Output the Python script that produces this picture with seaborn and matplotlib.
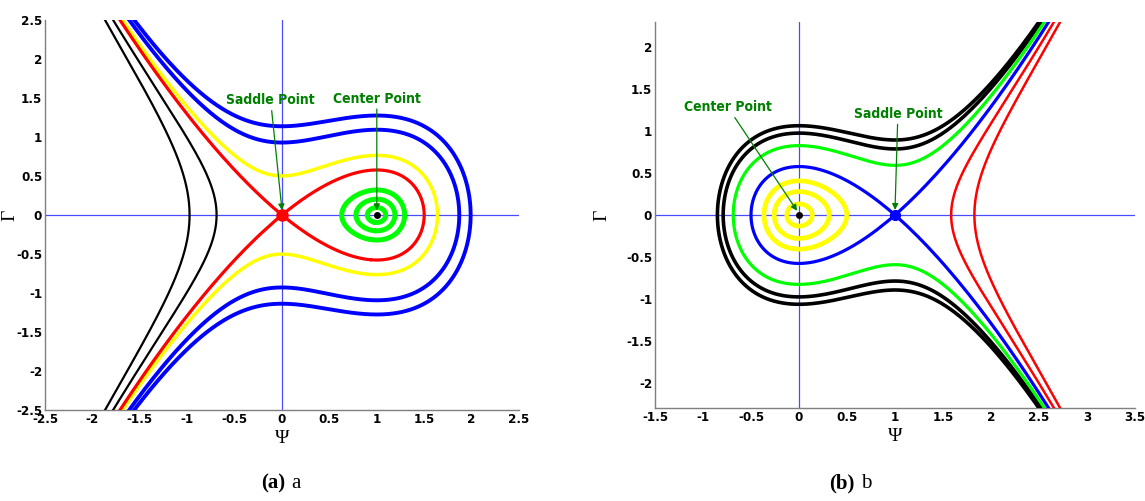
import numpy as np
import pandas as pd
import matplotlib
matplotlib.use("Agg")
import matplotlib.pyplot as plt
from matplotlib import font_manager
from matplotlib.ticker import FuncFormatter
import seaborn as sns
import contourpy

# ---------------------------------------------------------------------------
# Phase portraits of H(Psi, Gamma) = Gamma^2 / 2 + V(Psi).
# Each trajectory is identified by the Psi value where it crosses Gamma = 0.
# ---------------------------------------------------------------------------

# (a) V = Psi^3/3 - Psi^2/2 : saddle at Psi = 0, centre at Psi = 1
a_black = [-0.975, -0.69]
a_red = [0.0]                 # separatrix through the saddle
a_yellow = [1.64]
a_blue = [1.87, 1.99]
a_green = [0.63, 0.78, 0.90]  # closed orbits round the centre
a_saddle = (0.0, 0.0)
a_center = (1.0, 0.0)

# (b) V = Psi^2/2 - Psi^3/3 : centre at Psi = 0, saddle at Psi = 1
b_black = [-0.85, -0.79]
b_green = [-0.685]
b_blue = [1.0]                # separatrix through the saddle
b_yellow = [-0.365, -0.258, -0.127]  # closed orbits round the centre
b_red = [1.585, 1.827]
b_saddle = (1.0, 0.0)
b_center = (0.0, 0.0)


def pot_a(p):
    return p ** 3 / 3 - p ** 2 / 2


def pot_b(p):
    return p ** 2 / 2 - p ** 3 / 3


def orbits(pot, crossings, xlim, ylim, keep=None):
    """Level curves of H through the points (psi0, 0)."""
    px = np.linspace(xlim[0] - 0.2, xlim[1] + 0.2, 900)
    gy = np.linspace(ylim[0] - 0.2, ylim[1] + 0.2, 900)
    P, G = np.meshgrid(px, gy)
    H = G ** 2 / 2 + pot(P)
    gen = contourpy.contour_generator(px, gy, H)
    out = []
    for p0 in crossings:
        for seg in gen.lines(pot(p0)):
            if keep is None or keep(seg):
                out.append(seg)
    return out


sns.set_theme(style="white")
plt.rcParams["axes.unicode_minus"] = False
plt.rcParams["text.color"] = "black"
plt.rcParams["axes.labelcolor"] = "black"

installed = {f.name for f in font_manager.fontManager.ttflist}
narrow = [f for f in ("Liberation Sans Narrow", "DejaVu Sans Condensed")
          if f in installed]
tick_font = narrow + ["DejaVu Sans"]
serif = ["Liberation Serif", "DejaVu Serif"]

fig = plt.figure(figsize=(11.45, 5.01), dpi=100)
ax_a = fig.add_axes([45 / 1145, 91 / 501, 474 / 1145, 390 / 501])
ax_b = fig.add_axes([655 / 1145, 93 / 501, 480 / 1145, 386 / 501])

BLK, RED, YEL, BLU, GRN = "#000000", "#ff0000", "#ffff00", "#0000ff", "#00ff00"
AX_BLUE = "#4a4aff"


def draw(ax, curves, color, lw):
    for seg in curves:
        df = pd.DataFrame({"psi": seg[:, 0], "gamma": seg[:, 1]})
        sns.lineplot(data=df, x="psi", y="gamma", sort=False, estimator=None,
                     color=color, lw=lw, ax=ax, zorder=3)


def style(ax, xlim, ylim, xt, yt, ylab_x):
    ax.axhline(0, color=AX_BLUE, lw=0.9, zorder=1)
    ax.axvline(0, color=AX_BLUE, lw=0.9, zorder=1)
    ax.set_xlim(*xlim)
    ax.set_ylim(*ylim)
    ax.set_xticks(xt)
    ax.set_yticks(yt)
    fmt = FuncFormatter(lambda v, _: "%g" % round(v, 2))
    ax.xaxis.set_major_formatter(fmt)
    ax.yaxis.set_major_formatter(fmt)
    for s in ("top", "right"):
        ax.spines[s].set_visible(False)
    for s in ("left", "bottom"):
        ax.spines[s].set_color("#7f7f7f")
        ax.spines[s].set_linewidth(1.0)
    ax.tick_params(direction="in", length=5, width=0.8, color="#7f7f7f",
                   labelcolor="black", pad=2, labelsize=9.5)
    for lab in ax.get_xticklabels() + ax.get_yticklabels():
        lab.set_family(tick_font)
        lab.set_fontweight("bold")
        lab.set_fontstretch("condensed")
    ax.set_xlabel("Ψ", family=serif, fontsize=14, labelpad=3, color="black")
    ax.set_ylabel("Γ", family=serif, fontsize=14, color="black")
    ax.yaxis.set_label_coords(ylab_x, 0.5)
    ax.set_facecolor("white")


# ---- panel (a) ----
xa, ya = (-2.5, 2.5), (-2.5, 2.5)
draw(ax_a, orbits(pot_a, a_black, xa, ya), BLK, 1.6)
draw(ax_a, orbits(pot_a, a_blue, xa, ya), BLU, 2.8)
draw(ax_a, orbits(pot_a, a_yellow, xa, ya), YEL, 2.5)
draw(ax_a, orbits(pot_a, a_red, xa, ya), RED, 2.3)
draw(ax_a, orbits(pot_a, a_green, xa, ya, keep=lambda s: s[:, 0].min() > 0.3),
     GRN, 3.6)
style(ax_a, xa, ya, np.arange(-2.5, 2.51, 0.5), np.arange(-2.5, 2.51, 0.5),
      -0.056)
ax_a.plot(*a_saddle, "o", color=RED, ms=8, zorder=5)
ax_a.plot(*a_center, "o", color=BLK, ms=4, zorder=5)

ann = dict(color="#008000", fontsize=10, fontweight="bold", family=tick_font,
           fontstretch="condensed", ha="center", va="bottom")
arrow = dict(arrowstyle="-|>", color="#008000", lw=0.9, mutation_scale=9,
             shrinkA=0, shrinkB=0)
ax_a.annotate("Saddle Point", xy=(0.0, 0.06), xytext=(-0.12, 1.38),
              arrowprops=arrow, **ann)
ax_a.annotate("Center Point", xy=(1.0, 0.06), xytext=(1.0, 1.40),
              arrowprops=arrow, **ann)

# ---- panel (b) ----
xb, yb = (-1.5, 3.5), (-2.3, 2.3)
draw(ax_b, orbits(pot_b, b_red, xb, yb), RED, 1.8)
draw(ax_b, orbits(pot_b, b_black, xb, yb), BLK, 2.6)
draw(ax_b, orbits(pot_b, b_green, xb, yb), GRN, 2.3)
draw(ax_b, orbits(pot_b, b_blue, xb, yb), BLU, 2.3)
draw(ax_b, orbits(pot_b, b_yellow, xb, yb, keep=lambda s: s[:, 0].max() < 0.9),
     YEL, 3.4)
style(ax_b, xb, yb, np.arange(-1.5, 3.51, 0.5), np.arange(-2, 2.01, 0.5),
      -0.092)
ax_b.plot(*b_saddle, "o", color=BLU, ms=7, zorder=5)
ax_b.plot(*b_center, "o", color=BLK, ms=4, zorder=5)

ax_b.annotate("Center Point", xy=(-0.02, 0.05), xytext=(-0.74, 1.2),
              arrowprops=arrow, **ann)
ax_b.annotate("Saddle Point", xy=(1.0, 0.06), xytext=(1.03, 1.12),
              arrowprops=arrow, **ann)

# ---- sub-captions ----
for xc, tag, name in ((283, "(a)", "a"), (853, "(b)", "b")):
    fig.text((xc + 2) / 1145, 0.025, tag, ha="right", va="baseline",
             family=serif, fontweight="bold", fontsize=15, color="black")
    fig.text((xc + 8) / 1145, 0.025, name, ha="left", va="baseline",
             family=serif, fontsize=15, color="black")

fig.savefig("out.png", dpi=100, facecolor="white")
